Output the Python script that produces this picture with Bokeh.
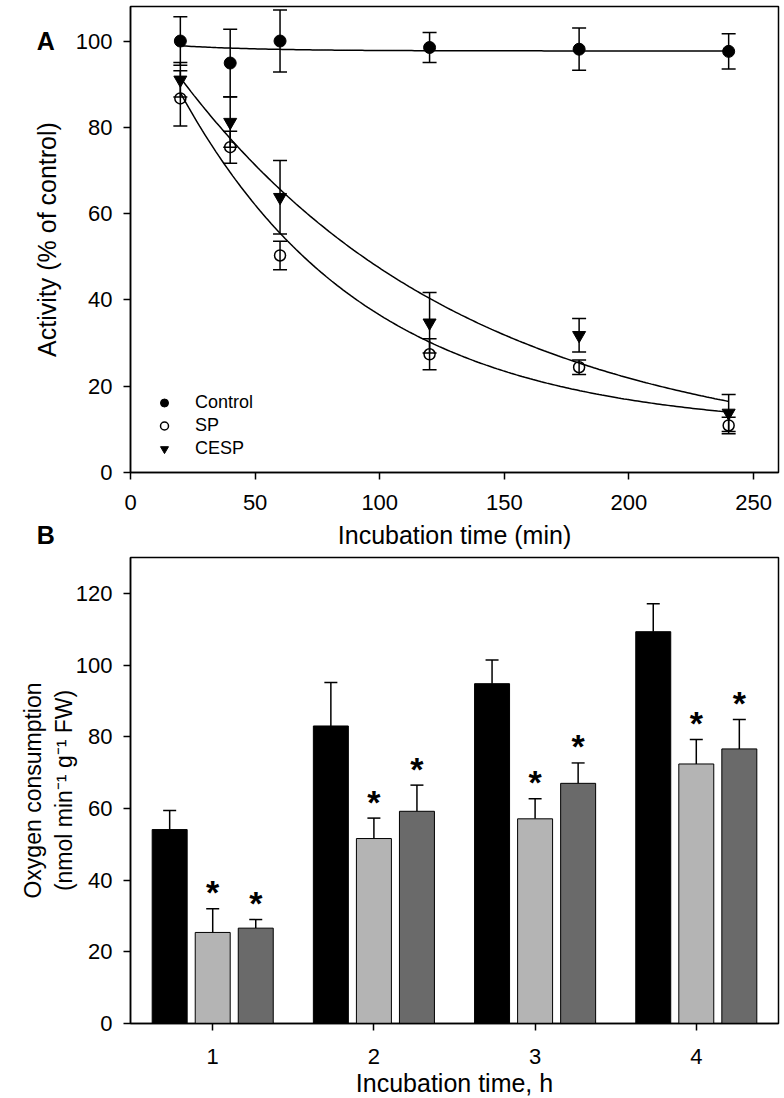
import numpy as np
from bokeh.plotting import figure
from bokeh.models import (Range1d, Legend, LegendItem, FixedTicker)
from bokeh.layouts import column
from bokeh.embed import file_html
from bokeh.resources import INLINE
from bokeh.core.properties import value

FONT = "Liberation Sans"

# ---------------- Panel A data ----------------
time_min = [20, 40, 60, 120, 180, 240]
control = [100.0, 94.9, 100.0, 98.5, 98.1, 97.6]
control_err = [5.6, 7.8, 7.2, 3.5, 4.9, 4.1]
sp = [86.7, 75.4, 50.3, 27.4, 24.4, 10.9]
sp_err = [6.4, 3.7, 3.3, 3.6, 1.7, 1.9]
cesp = [91.0, 81.2, 63.8, 34.7, 31.8, 13.8]
cesp_err = [4.0, 5.8, 8.5, 7.0, 3.9, 4.3]

# fitted curves: y = y0 + a * exp(-k * t)
fit_control = (97.7, 2.2, 0.03)
fit_sp = (10.0, 102.2, 0.0135)
fit_cesp = (3.5, 104.7, 0.0087)
fit_span = (20, 240)

# ---------------- Panel B data ----------------
hours = [1, 2, 3, 4]
o2_control = [54.1, 83.0, 94.8, 109.3]
o2_control_err = [5.3, 12.1, 6.6, 7.8]
o2_sp = [25.4, 51.6, 57.1, 72.4]
o2_sp_err = [6.6, 5.7, 5.6, 6.8]
o2_cesp = [26.6, 59.2, 67.0, 76.6]
o2_cesp_err = [2.4, 7.3, 5.7, 8.2]
series_labels = ["Control", "SP", "CESP"]
panel_labels = ["A", "B"]


def style(p):
    p.xgrid.visible = False
    p.ygrid.visible = False
    p.outline_line_color = "black"
    p.outline_line_width = 1.5
    p.outline_line_alpha = 1.0
    p.background_fill_color = "white"
    p.border_fill_color = "white"
    for ax in (p.xaxis[0], p.yaxis[0]):
        ax.axis_line_color = "black"
        ax.axis_line_width = 1.5
        ax.major_tick_line_color = "black"
        ax.major_tick_line_width = 1.5
        ax.major_tick_out = 7
        ax.major_tick_in = 0
        ax.minor_tick_line_color = None
        ax.major_label_text_font = FONT
        ax.major_label_text_color = "black"
        ax.major_label_text_font_size = "22px"
        ax.axis_label_text_font = FONT
        ax.axis_label_text_font_style = "normal"
        ax.axis_label_text_color = "black"


# ================= Panel A =================
pA = figure(frame_width=648, frame_height=466,
            x_range=Range1d(0, 260), y_range=Range1d(0, 108),
            output_backend="svg", toolbar_location=None,
            min_border_left=130, min_border_right=6,
            min_border_top=6, min_border_bottom=78)
style(pA)
pA.xaxis.ticker = FixedTicker(ticks=[0, 50, 100, 150, 200, 250])
pA.yaxis.ticker = FixedTicker(ticks=[0, 20, 40, 60, 80, 100])
pA.xaxis.axis_label = "Incubation time (min)"
pA.yaxis.axis_label = "Activity (% of control)"
pA.xaxis.axis_label_text_font_size = "25px"
pA.yaxis.axis_label_text_font_size = "25px"
pA.xaxis.major_label_standoff = 15
pA.yaxis.major_label_standoff = 11
pA.xaxis.axis_label_standoff = 8
pA.yaxis.axis_label_standoff = 12

t_fit = np.linspace(fit_span[0], fit_span[1], 200)
for (y0, a, k) in (fit_control, fit_sp, fit_cesp):
    pA.line(t_fit, y0 + a * np.exp(-k * t_fit), line_color="black", line_width=1.5)


def err_bars_sym(p, xs, ys, es):
    lo = [y - e for y, e in zip(ys, es)]
    hi = [y + e for y, e in zip(ys, es)]
    p.segment(x0=xs, y0=lo, x1=xs, y1=hi, line_color="black", line_width=1.5)
    p.scatter(x=xs + xs, y=lo + hi, marker="dash", size=14,
              line_color="black", line_width=1.5)


err_bars_sym(pA, time_min, control, control_err)
err_bars_sym(pA, time_min, sp, sp_err)
err_bars_sym(pA, time_min, cesp, cesp_err)

r_ctrl = pA.scatter(time_min, control, marker="circle", size=12,
                    fill_color="black", line_color="black")
r_sp = pA.scatter(time_min, sp, marker="circle", size=11,
                  fill_color=None, line_color="black", line_width=1.5)
r_cesp = pA.scatter(time_min, cesp, marker="inverted_triangle", size=13,
                    fill_color="black", line_color="black")

legend = Legend(items=[LegendItem(label=series_labels[0], renderers=[r_ctrl]),
                       LegendItem(label=series_labels[1], renderers=[r_sp]),
                       LegendItem(label=series_labels[2], renderers=[r_cesp])],
                location=(24, 12))
legend.border_line_color = None
legend.background_fill_alpha = 0
legend.label_text_font = FONT
legend.label_text_font_size = "18px"
legend.label_text_color = "black"
legend.glyph_width = 20
legend.glyph_height = 23
legend.label_height = 23
legend.spacing = 0
legend.padding = 5
legend.margin = 0
legend.label_standoff = 21
pA.add_layout(legend)

# panel letters (placed in the left margin of panel A's plot area)
pA.text(x=[-34], y=[100], text=[panel_labels[0]], text_font=value(FONT),
        text_font_size="25px", text_font_style="bold", text_align="center",
        text_baseline="middle", text_color="black", level="overlay")
pA.text(x=[-34], y=[-14.6], text=[panel_labels[1]], text_font=value(FONT),
        text_font_size="25px", text_font_style="bold", text_align="center",
        text_baseline="middle", text_color="black", level="overlay")

# ================= Panel B =================
pB = figure(frame_width=648, frame_height=466,
            x_range=Range1d(0.49, 4.51), y_range=Range1d(0, 130),
            output_backend="svg", toolbar_location=None,
            min_border_left=130, min_border_right=6,
            min_border_top=6, min_border_bottom=76)
style(pB)
pB.xaxis.ticker = FixedTicker(ticks=hours)
pB.yaxis.ticker = FixedTicker(ticks=[0, 20, 40, 60, 80, 100, 120])
pB.xaxis.axis_label = "Incubation time, h"
pB.yaxis.axis_label = "Oxygen consumption\n(nmol min\u207b\u00b9 g\u207b\u00b9 FW)"
pB.xaxis.axis_label_text_font_size = "25px"
pB.yaxis.axis_label_text_font_size = "23px"
pB.xaxis.major_label_standoff = 18
pB.yaxis.major_label_standoff = 11
pB.xaxis.axis_label_standoff = 2
pB.yaxis.axis_label_standoff = -4

offsets = [-0.267, 0.0, 0.267]
fills = ["#000000", "#b4b4b4", "#6a6a6a"]
bar_w = 0.217
groups = [(o2_control, o2_control_err), (o2_sp, o2_sp_err), (o2_cesp, o2_cesp_err)]
for gi, ((vals, errs), off, col) in enumerate(zip(groups, offsets, fills)):
    xs = [h + off for h in hours]
    tops = [v + e for v, e in zip(vals, errs)]
    pB.segment(x0=xs, y0=vals, x1=xs, y1=tops, line_color="black", line_width=1.5)
    pB.scatter(x=xs, y=tops, marker="dash", size=13, line_color="black", line_width=1.5)
    pB.vbar(x=xs, top=vals, bottom=0, width=bar_w, fill_color=col,
            line_color="black", line_width=1)
    if gi > 0:
        pB.text(x=xs, y=[t + 4.6 for t in tops], text=["*"] * len(xs),
                text_font=value(FONT), text_font_size="34px", text_font_style="bold",
                text_align="center", text_baseline="middle", text_color="black")

layout = column(pA, pB, spacing=0)
open("out.html", "w").write(file_html(layout, INLINE))
